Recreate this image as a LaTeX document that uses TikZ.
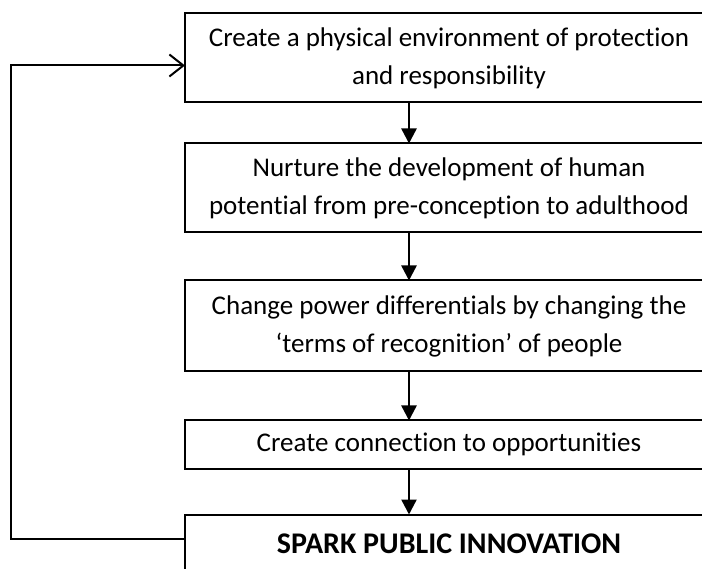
\documentclass[tikz,border=0pt]{standalone}
\usepackage{fontspec}
\setmainfont{Carlito}[Ligatures=NoCommon]
\usepackage{tikz}
\usetikzlibrary{arrows.meta,positioning}

\begin{document}
\begin{tikzpicture}[
  node distance=46pt,
  box/.style={draw, line width=2pt, align=center, minimum width=528pt, inner sep=0pt, outer sep=0pt,
    font=\fontsize{27}{38}\selectfont},
  arrow/.style={-{Triangle[length=15pt, width=15pt]}, line width=2.4pt},
  back/.style={-{Straight Barb[length=14pt, width=22pt, line width=2pt]}, line width=2pt}
]
\useasboundingbox (0pt,0pt) rectangle (702pt,-569pt);
\coordinate (spine) at (409pt,0pt);
\coordinate (rail) at (11pt,0pt);

\node[box, minimum height=89pt] (protect) at (449pt,-58pt) {Create a physical environment of protection\\and responsibility};
\node[box, minimum height=89pt, below=41pt of protect] (nurture) {Nurture the development of human\\potential from pre-conception to adulthood};
\node[box, minimum height=91pt, below=48pt of nurture] (power) {Change power differentials by changing the\\`terms of recognition' of people};
\node[box, minimum height=48pt, below=49pt of power] (connect) {Create connection to opportunities};
\node[box, minimum height=58pt, below=of connect, font=\fontsize{30}{38}\selectfont\bfseries] (spark) {SPARK PUBLIC INNOVATION};

\draw[arrow] (protect.south -| spine) -- (nurture.north -| spine);
\draw[arrow] (nurture.south -| spine) -- (power.north -| spine);
\draw[arrow] (power.south -| spine) -- (connect.north -| spine);
\draw[arrow] (connect.south -| spine) -- (spark.north -| spine);

% feedback loop back to the top
\draw[back] ([yshift=5pt]spark.west) -- ([yshift=5pt]spark.west -| rail) |- ([yshift=-7.5pt]protect.west);
\end{tikzpicture}
\end{document}
